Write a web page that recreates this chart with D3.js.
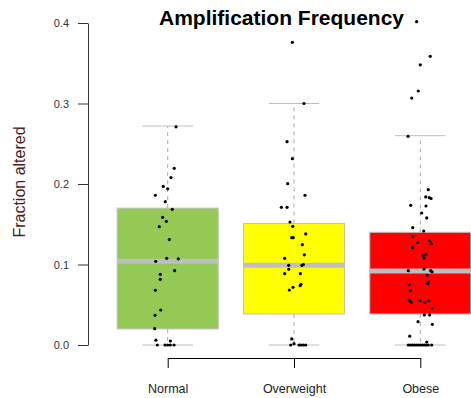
<!DOCTYPE html>
<html>
<head>
<meta charset="utf-8">
<script src="https://cdn.jsdelivr.net/npm/d3@7"></script>
<style>
  body { margin: 0; background: #fff; }
  svg { display: block; font-family: "Liberation Sans", Arial, sans-serif; }
  .box { stroke: #bebebe; stroke-width: 1; }
  .median { stroke: #bebebe; stroke-width: 5; }
  .whisker { stroke: #a8a8a8; stroke-dasharray: 4,4; }
  .staple { stroke: #bebebe; stroke-width: 1; }
  .dot { fill: #000; }
</style>
</head>
<body>
<div id="chart"></div>
<script>
// categories and box statistics
var groups = ["Normal", "Overweight", "Obese"];
var whiskerLow  = [0, 0, 0];
var q1          = [0.020, 0.0385, 0.0385];
var median      = [0.104, 0.099, 0.092];
var q3          = [0.170, 0.151, 0.140];
var whiskerHigh = [0.272, 0.300, 0.260];

// jittered samples: [jitter in category units, fraction altered]
var normalPts = [
  [0.066, 0.271], [0.052, 0.2195], [0.026, 0.208], [-0.035, 0.197], [0.000, 0.194],
  [-0.098, 0.186], [-0.019, 0.178], [0.036, 0.1685], [-0.040, 0.1586], [-0.011, 0.1536],
  [-0.067, 0.147], [0.013, 0.131], [-0.008, 0.1077], [0.084, 0.107], [-0.095, 0.104],
  [0.055, 0.0923], [-0.059, 0.0878], [-0.059, 0.0816], [-0.098, 0.068], [-0.055, 0.0435],
  [-0.100, 0.0369], [-0.103, 0.0203], [-0.093, 0.006], [0.021, 0.005], [-0.082, 0],
  [-0.021, 0], [0.000, 0], [0.021, 0], [0.050, 0]
];
var overweightPts = [
  [-0.013, 0.376], [0.079, 0.300], [-0.055, 0.2526], [-0.013, 0.2315], [-0.050, 0.2004],
  [0.087, 0.186], [-0.100, 0.171], [-0.055, 0.171], [-0.032, 0.1528], [-0.010, 0.1474],
  [0.093, 0.138], [-0.018, 0.1333], [-0.006, 0.1333], [0.066, 0.1246], [0.082, 0.112],
  [-0.074, 0.1077], [-0.042, 0.099], [0.074, 0.100], [0.063, 0.099], [-0.042, 0.094],
  [-0.074, 0.0886], [0.050, 0.0886], [0.055, 0.0754], [0.048, 0.0737], [-0.008, 0.0717],
  [-0.037, 0.0683], [-0.018, 0.0075], [0.000, 0.0017], [-0.026, 0], [0.040, 0],
  [0.055, 0], [0.074, 0], [0.093, 0]
];
var obesePts = [
  [-0.029, 0.4016], [0.079, 0.3586], [0.000, 0.348], [-0.016, 0.3155], [-0.068, 0.3068],
  [-0.097, 0.2592], [0.063, 0.193], [0.043, 0.184], [0.071, 0.183], [0.085, 0.182],
  [-0.076, 0.1735], [0.045, 0.1727], [0.011, 0.164], [0.051, 0.1578], [-0.060, 0.1457],
  [0.027, 0.1416], [-0.060, 0.135], [0.071, 0.1296], [-0.021, 0.1276], [0.087, 0.1258],
  [-0.063, 0.1209], [0.045, 0.113], [0.021, 0.111], [0.032, 0.108], [-0.095, 0.0923],
  [0.029, 0.0944], [0.082, 0.0923], [0.093, 0.091], [0.053, 0.0866], [0.063, 0.0783],
  [0.059, 0.0762], [-0.087, 0.075], [-0.079, 0.0675], [-0.087, 0.056], [-0.074, 0.053],
  [-0.002, 0.055], [0.035, 0.053], [0.067, 0.055], [0.093, 0.0456], [0.032, 0.0373],
  [0.074, 0.0373], [-0.018, 0.029], [0.095, 0.0257], [-0.084, 0.011], [0.051, 0.0037],
  [-0.095, 0], [-0.079, 0], [-0.063, 0], [-0.048, 0], [-0.032, 0], [-0.016, 0],
  [0.000, 0], [0.016, 0], [0.032, 0], [0.048, 0], [0.063, 0], [0.090, 0]
];
var yTicks = [0, 0.1, 0.2, 0.3, 0.4];

var boxColors = ["#93c954", "#ffff00", "#ff0000"];
var points = [normalPts, overweightPts, obesePts];

var width = 471, height = 398;

var svg = d3.select("#chart").append("svg")
  .attr("width", width)
  .attr("height", height);

// category index 1..3 on a linear scale so jitter can live in the same units
var x = d3.scaleLinear().domain([1, 3]).range([167.7, 420.3]);
var y = d3.scaleLinear().domain([0, 0.4]).range([345, 23]);
var boxHalf = 0.4, stapleHalf = 0.2;

// y axis
var yAxis = svg.append("g")
  .attr("transform", "translate(88,0)")
  .call(d3.axisLeft(y).tickValues(yTicks).tickFormat(d3.format(".1f"))
    .tickSize(10).tickSizeOuter(0).tickPadding(9));
yAxis.selectAll("path, line").attr("stroke", "#333");
yAxis.selectAll("text").attr("fill", "#333").style("font-size", "11px");

// x axis (bracket)
var xAxis = svg.append("g")
  .attr("transform", "translate(0,358)")
  .call(d3.axisBottom(x).tickValues([1, 2, 3]).tickFormat(function(d) { return groups[d - 1]; })
    .tickSize(10).tickSizeOuter(0).tickPadding(16));
xAxis.selectAll("path, line").attr("stroke", "#000");
xAxis.selectAll("text").attr("fill", "#222").style("font-size", "12.5px");

// boxes
var g = svg.selectAll(".grp").data(groups).enter().append("g").attr("class", "grp");

g.append("line").attr("class", "whisker")
  .attr("x1", function(d, i) { return x(i + 1); }).attr("x2", function(d, i) { return x(i + 1); })
  .attr("y1", function(d, i) { return y(q3[i]); }).attr("y2", function(d, i) { return y(whiskerHigh[i]); });
g.append("line").attr("class", "whisker")
  .attr("x1", function(d, i) { return x(i + 1); }).attr("x2", function(d, i) { return x(i + 1); })
  .attr("y1", function(d, i) { return y(q1[i]); }).attr("y2", function(d, i) { return y(whiskerLow[i]); });

[whiskerHigh, whiskerLow].forEach(function(arr) {
  g.append("line").attr("class", "staple")
    .attr("x1", function(d, i) { return x(i + 1 - stapleHalf); })
    .attr("x2", function(d, i) { return x(i + 1 + stapleHalf); })
    .attr("y1", function(d, i) { return y(arr[i]); })
    .attr("y2", function(d, i) { return y(arr[i]); });
});

g.append("rect").attr("class", "box")
  .attr("x", function(d, i) { return x(i + 1 - boxHalf); })
  .attr("width", function(d, i) { return x(i + 1 + boxHalf) - x(i + 1 - boxHalf); })
  .attr("y", function(d, i) { return y(q3[i]); })
  .attr("height", function(d, i) { return y(q1[i]) - y(q3[i]); })
  .attr("fill", function(d, i) { return boxColors[i]; });

g.append("line").attr("class", "median")
  .attr("x1", function(d, i) { return x(i + 1 - boxHalf); })
  .attr("x2", function(d, i) { return x(i + 1 + boxHalf); })
  .attr("y1", function(d, i) { return y(median[i]); })
  .attr("y2", function(d, i) { return y(median[i]); });

// jittered points
points.forEach(function(pts, i) {
  svg.append("g").selectAll("circle").data(pts).enter().append("circle")
    .attr("class", "dot")
    .attr("cx", function(p) { return x(i + 1 + p[0]); })
    .attr("cy", function(p) { return y(p[1]); })
    .attr("r", 1.6);
});

// title and y label
svg.append("text")
  .attr("x", 281.5).attr("y", 25)
  .attr("text-anchor", "middle")
  .style("font-weight", "bold").style("font-size", "21px")
  .text("Amplification Frequency");

svg.append("text")
  .attr("transform", "translate(25,182) rotate(-90)")
  .attr("text-anchor", "middle")
  .attr("fill", "#4a1c1c")
  .style("font-size", "16px")
  .text("Fraction altered");
</script>
</body>
</html>
